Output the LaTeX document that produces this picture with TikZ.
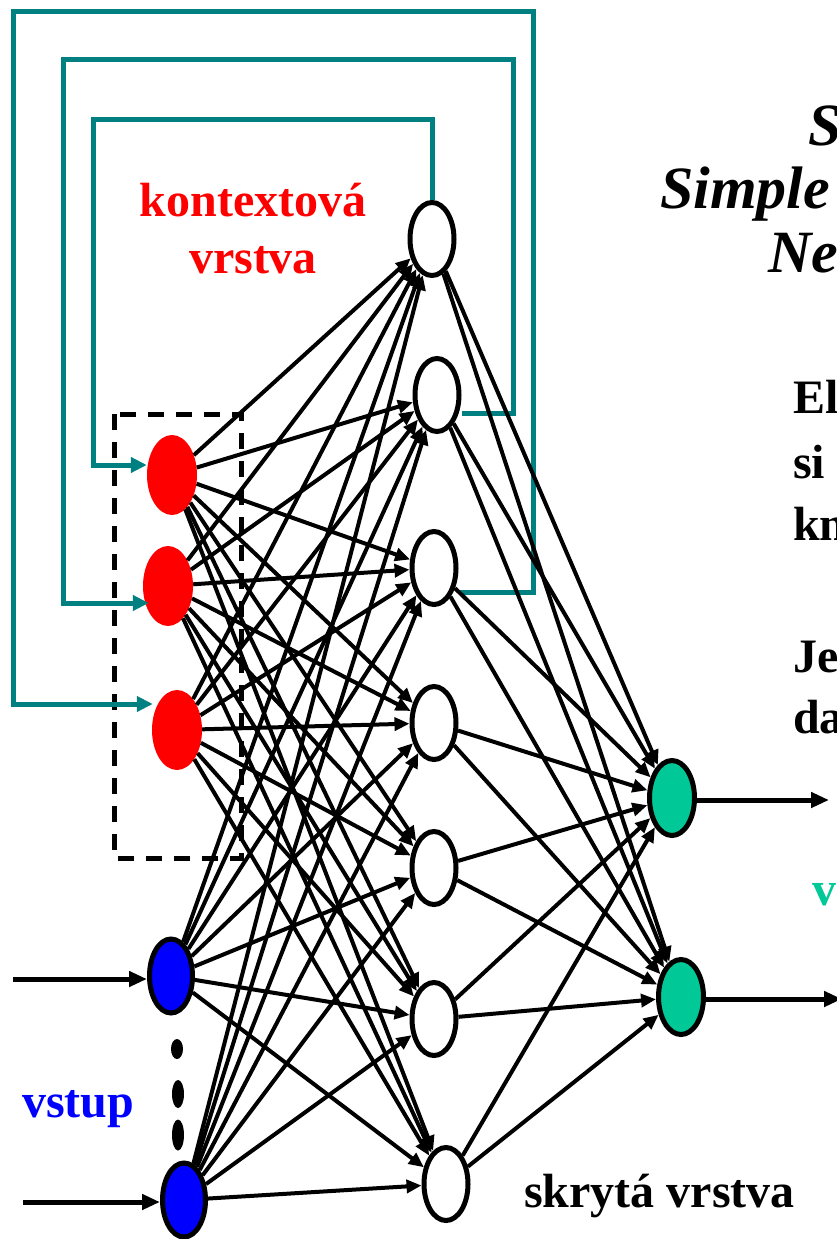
\documentclass[tikz,border=0pt]{standalone}
\usepackage{fontspec}
\setmainfont{Liberation Serif}
\usetikzlibrary{arrows.meta,shapes.geometric}
\definecolor{ctxred}{HTML}{FF0000}
\definecolor{inblue}{HTML}{0000FF}
\definecolor{outgreen}{HTML}{00C896}
\definecolor{fbteal}{HTML}{008080}
\begin{document}
\begin{tikzpicture}[x=1pt,y=-1pt,
  hid/.style={ellipse, draw=black, line width=5pt, fill=white, minimum width=44pt, minimum height=73pt, inner sep=0pt},
  ctx/.style={ellipse, fill=ctxred, minimum width=50pt, minimum height=80pt, inner sep=0pt},
  inp/.style={ellipse, draw=black, line width=5pt, fill=inblue, minimum width=43pt, minimum height=74pt, inner sep=0pt},
  outn/.style={ellipse, draw=black, line width=5pt, fill=outgreen, minimum width=45pt, minimum height=75pt, inner sep=0pt},
  dotn/.style={ellipse, fill=black, minimum width=12pt, inner sep=0pt},
  conn/.style={line width=4pt, -{Triangle[length=15pt,width=13pt]}},
  ioarrow/.style={line width=5pt, -{Triangle[length=18pt,width=15pt]}},
  fb/.style={draw=fbteal, line width=5pt, -{Triangle[length=16pt,width=15pt]}},
  lbl/.style={inner sep=0pt, font=\fontsize{48}{57}\selectfont\bfseries},
  ital/.style={inner sep=0pt, font=\fontsize{60}{64}\selectfont\bfseries\itshape},
  dashbox/.style={draw=black, line width=5pt, dash pattern=on 16pt off 12pt}
]
\useasboundingbox (0,0) rectangle (837,1239);
\clip (0,0) rectangle (837,1239);

% dashed context box
\draw[dashbox] (114,414) rectangle (241,858);

% nodes
\node[ctx] (C1) at (172,475) {};
\node[ctx] (C2) at (168,586) {};
\node[ctx] (C3) at (177,730) {};
\node[inp] (I1) at (171,976) {};
\node[inp] (I2) at (184,1200) {};
\node[dotn, minimum height=20pt] (d1) at (177,1049) {};
\node[dotn, minimum height=28pt] (d2) at (178,1094) {};
\node[dotn, minimum height=31pt] (d3) at (178,1135) {};

\node[hid] (H1) at (432,239) {};
\node[hid] (H2) at (437,395) {};
\node[hid] (H3) at (434,568) {};
\node[hid] (H4) at (434,723) {};
\node[hid] (H5) at (434,868) {};
\node[hid] (H6) at (434,1019) {};
\node[hid] (H7) at (446,1184) {};

\node[outn] (O1) at (672,798) {};
\node[outn] (O2) at (681,997) {};

% feedback (teal) loops
\coordinate (r1) at (432,119);
\coordinate (l1) at (93,119);
\coordinate (r2) at (513,60);
\coordinate (l2) at (63,60);
\coordinate (r3) at (533,12);
\coordinate (l3) at (13,12);
\draw[fb] (H1.north) -- (r1) -- (l1) |- ([yshift=10pt]C1.west);
\draw[fb] ([yshift=-18pt]H2.east) -| (r2) -- (l2) |- ([yshift=-17pt,xshift=6pt]C2.west);
\draw[fb] ([yshift=-24pt]H3.east) -| (r3) -- (l3) |- ([yshift=26pt,xshift=1pt]C3.west);

% connections to hidden layer
\foreach \s in {C1,C2,C3,I1,I2}{
  \foreach \t in {H1,H2,H3,H4,H5,H6,H7}{
    \draw[conn] (\s) -- (\t);
  }
}
% connections to output layer
\foreach \s in {H1,H2,H3,H4,H5,H6,H7}{
  \foreach \t in {O1,O2}{
    \draw[conn] (\s) -- (\t);
  }
}

% input and output arrows
\coordinate (in1) at (13,979);
\coordinate (in2) at (23,1202);
\coordinate (out1) at (829,800);
\coordinate (out2) at (842,999);
\draw[ioarrow] (in1) -- (in1 -| I1.west);
\draw[ioarrow] (in2) -- (in2 -| I2.west);
\draw[ioarrow] (O1.east |- out1) -- (out1);
\draw[ioarrow] (O2.east |- out2) -- (out2);

% labels
\node[lbl, text=ctxred, anchor=base] (kt1) at (253,216) {kontextová};
\node[lbl, text=ctxred, anchor=base] (kt2) at (253,273) {vrstva};
\node[lbl, text=inblue, anchor=base west] (vs) at (22,1117) {vstup};
\node[lbl, anchor=base west] (sk) at (524,1207) {skrytá vrstva};

\node[ital, anchor=base west] (t1) at (808,145) {S};
\node[ital, anchor=base west] (t2) at (660,208) {Simple};
\node[ital, anchor=base west] (t3) at (768,272) {Net};

\node[lbl, anchor=base west] (e1) at (793,413) {El};
\node[lbl, anchor=base west] (e2) at (793,478) {si};
\node[lbl, anchor=base west] (e3) at (793,540) {kn};
\node[lbl, anchor=base west] (e4) at (793,672) {Je};
\node[lbl, anchor=base west] (e5) at (793,733) {da};
\node[lbl, text=outgreen, anchor=base west] (gv) at (812,905) {v};
\end{tikzpicture}
\end{document}
